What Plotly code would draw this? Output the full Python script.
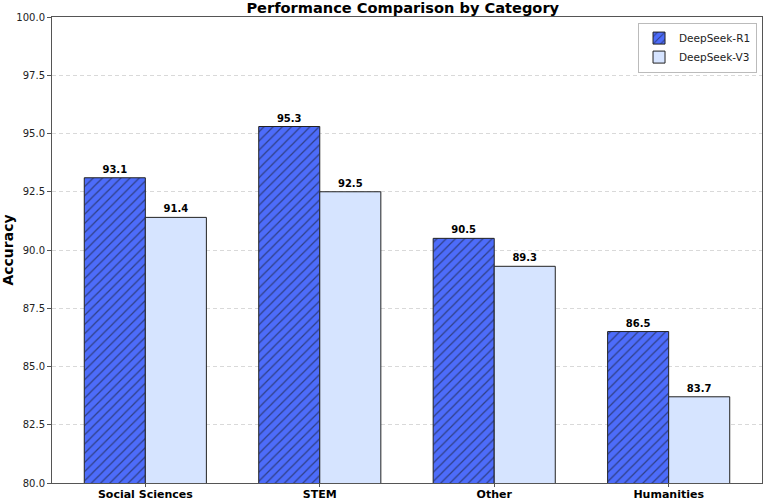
import plotly.graph_objects as go

categories = ["Social Sciences", "STEM", "Other", "Humanities"]
r1_values = [93.1, 95.3, 90.5, 86.5]
v3_values = [91.4, 92.5, 89.3, 83.7]
series_names = ["DeepSeek-R1", "DeepSeek-V3"]
y_ticks = [80.0, 82.5, 85.0, 87.5, 90.0, 92.5, 95.0, 97.5, 100.0]

FONT = "DejaVu Sans"
xpos = list(range(len(categories)))

fig = go.Figure()
fig.add_trace(go.Bar(
    x=xpos, y=r1_values, name=series_names[0],
    marker=dict(color="#4d6cfa", line=dict(color="#222222", width=1),
                pattern=dict(shape="/", fgcolor="#111111", size=6.5, solidity=0.2)),
    text=[f"{v:.1f}" for v in r1_values], textposition="outside",
    textfont=dict(family=FONT, size=10, color="black", weight="bold"),
    cliponaxis=False,
))
fig.add_trace(go.Bar(
    x=xpos, y=v3_values, name=series_names[1],
    marker=dict(color="#d6e4ff", line=dict(color="#222222", width=1)),
    text=[f"{v:.1f}" for v in v3_values], textposition="outside",
    textfont=dict(family=FONT, size=10, color="black", weight="bold"),
    cliponaxis=False,
))

fig.update_layout(
    width=764, height=502,
    margin=dict(l=52, r=2, t=17, b=19, autoexpand=False),
    paper_bgcolor="white", plot_bgcolor="white",
    barmode="group", bargap=0.3, bargroupgap=0,
    font=dict(family=FONT, size=10, color="#222222"),
    title=dict(text="<b>Performance Comparison by Category</b>", xref="paper", x=0.494,
               xanchor="center", yref="container", y=0.984, yanchor="middle",
               font=dict(family=FONT, size=14.6, color="black")),
    legend=dict(x=0.993, y=0.988, xanchor="right", yanchor="top",
                bgcolor="white", bordercolor="#bbbbbb", borderwidth=1,
                font=dict(family=FONT, size=10.5, color="#222222"),
                itemwidth=30, tracegroupgap=0),
    showlegend=True,
)
fig.update_xaxes(
    tickmode="array", tickvals=xpos, ticktext=[f"<b>{c}</b>" for c in categories],
    range=[-0.535, 3.535], showgrid=False, zeroline=False, automargin=False,
    showline=True, linecolor="#555555", linewidth=1, mirror=True,
    ticks="outside", ticklen=3, tickcolor="#555555", ticklabelstandoff=-2,
    tickfont=dict(family=FONT, size=11, color="black"),
)
fig.update_yaxes(
    range=[80, 100], tickmode="array", tickvals=y_ticks, automargin=False,
    ticktext=[f"{t:.1f}" for t in y_ticks],
    showgrid=True, gridcolor="#d9d9d9", griddash="4px,3px", gridwidth=0.8,
    zeroline=False, showline=True, linecolor="#555555", linewidth=1, mirror=True,
    ticks="outside", ticklen=4, tickcolor="#555555",
    tickfont=dict(family=FONT, size=10, color="#222222"),
    title=dict(text="<b>Accuracy</b>", font=dict(family=FONT, size=14, color="black"), standoff=8),
)

fig.write_html("out.html", config={"displayModeBar": False},
               post_script="document.body.style.margin='0';document.body.style.overflow='hidden';")
